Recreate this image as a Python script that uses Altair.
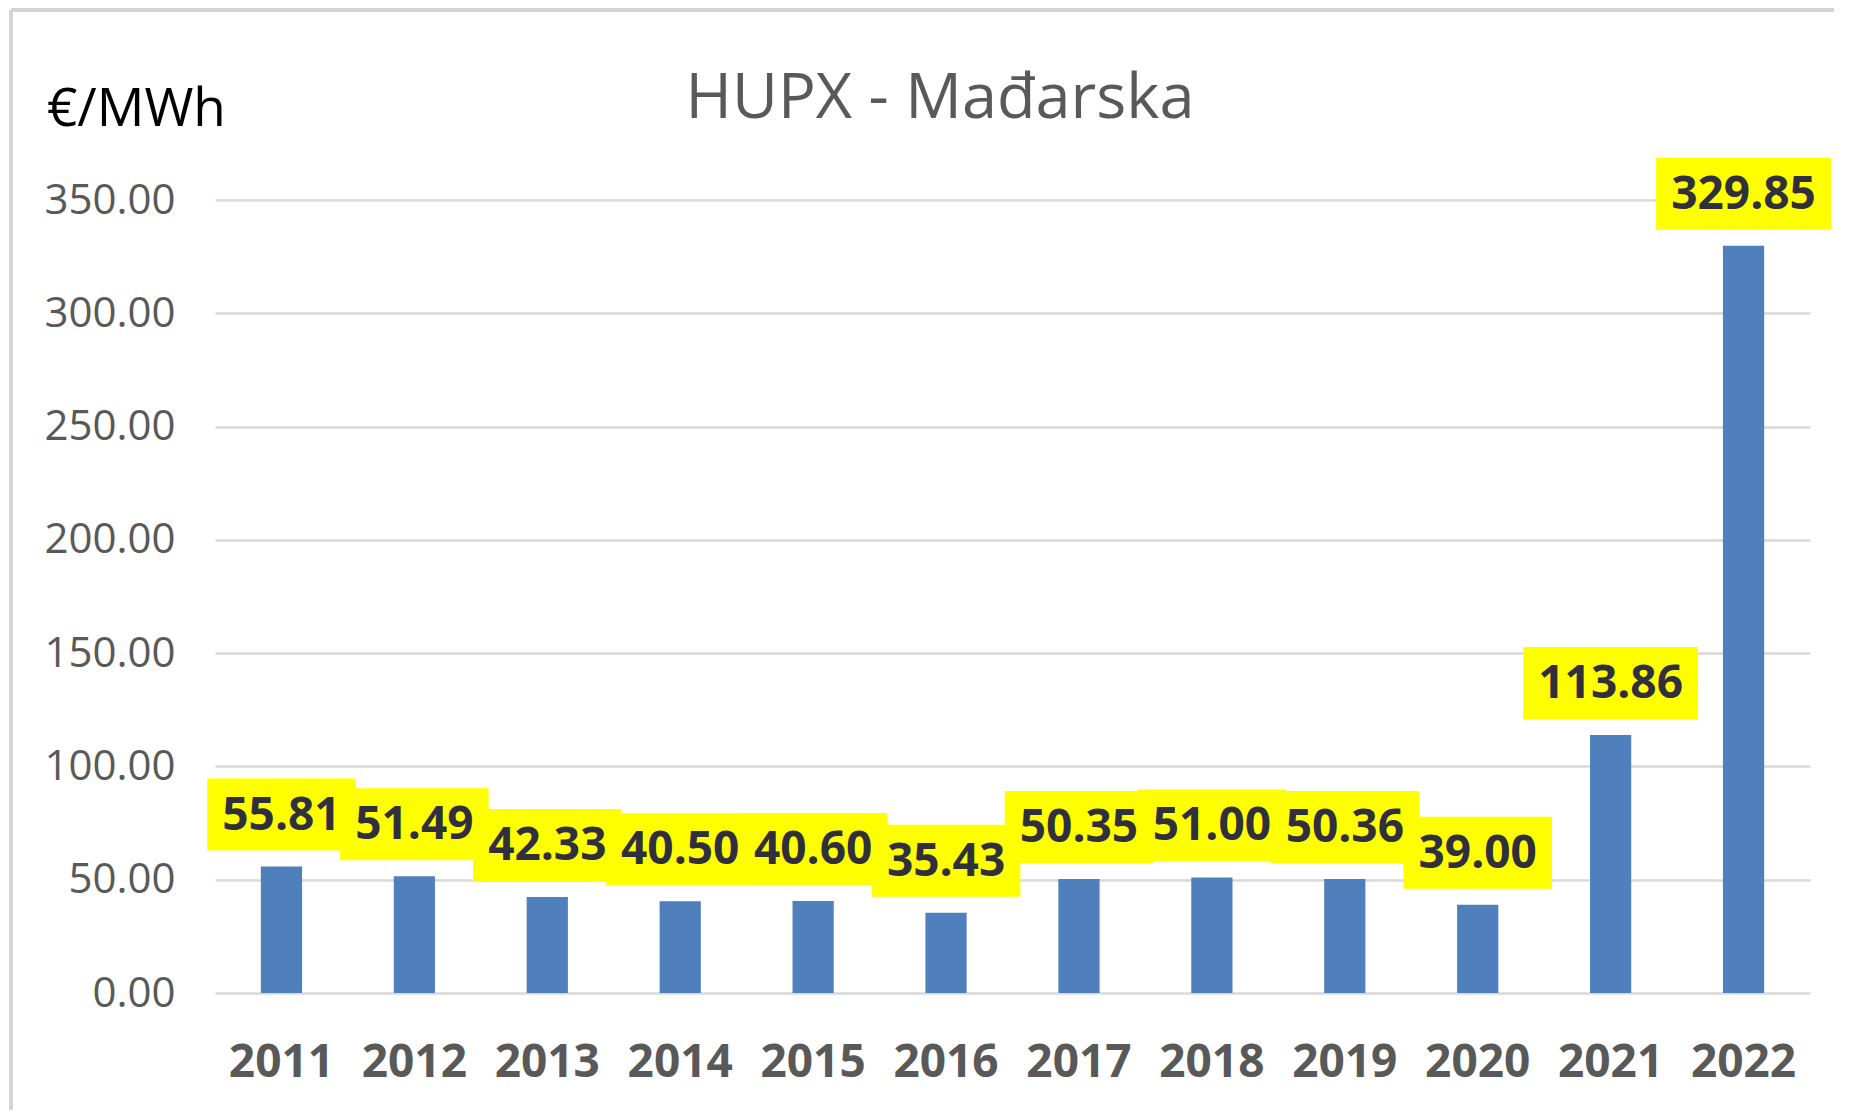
import altair as alt
import pandas as pd

years = ["2011", "2012", "2013", "2014", "2015", "2016", "2017", "2018", "2019", "2020", "2021", "2022"]
prices = [55.81, 51.49, 42.33, 40.50, 40.60, 35.43, 50.35, 51.00, 50.36, 39.00, 113.86, 329.85]
y_ticks = [0, 50, 100, 150, 200, 250, 300, 350]
title_text = "HUPX - Mađarska"
unit_text = "€/MWh"

df = pd.DataFrame({"year": years, "price": prices})
df["label"] = [f"{p:.2f}" for p in prices]

FONT = "Open Sans"

x_enc = alt.X(
    "year:N",
    sort=years,
    scale=alt.Scale(paddingInner=0.69, paddingOuter=0.345),
    axis=alt.Axis(
        title=None, labelAngle=0, labelFont=FONT, labelFontWeight="bold",
        labelFontSize=46, labelColor="#595959", labelPadding=47,
        domain=False, ticks=False, grid=False,
    ),
)
y_scale = alt.Scale(domain=[0, 350], nice=False, zero=True)

base = alt.Chart(df)

bars = base.mark_bar(color="#4F7FBC").encode(
    x=x_enc,
    y=alt.Y(
        "price:Q", scale=y_scale,
        axis=alt.Axis(
            title=None, values=y_ticks, format=".2f", labelFont=FONT,
            labelFontSize=42, labelColor="#595959", labelPadding=40,
            domain=False, ticks=False, gridColor="#D9D9D9", gridWidth=2.5,
        ),
    ),
)

boxes = base.transform_calculate(
    boxw="length(datum.label) * 26.3 + 17"
).mark_bar(color="#FFFF00", yOffset=-88, y2Offset=-16).encode(
    x=alt.X("year:N", sort=years),
    y=alt.Y("price:Q", scale=y_scale),
    y2="price:Q",
    size=alt.Size("boxw:Q", scale=None, legend=None),
)

labels = base.mark_text(
    font=FONT, fontWeight="bold", fontSize=46, color="#30303C",
    baseline="middle", dy=-51,
).encode(
    x=alt.X("year:N", sort=years),
    y=alt.Y("price:Q", scale=y_scale),
    text="label:N",
)

unit = alt.Chart(pd.DataFrame({"t": [unit_text]})).mark_text(
    font=FONT, fontSize=53, color="#000000", align="left", baseline="middle",
).encode(x=alt.value(-168), y=alt.value(-90), text="t:N")

title = alt.Chart(pd.DataFrame({"t": [title_text]})).mark_text(
    font=FONT, fontSize=63, color="#595959", align="center", baseline="alphabetic",
).encode(x=alt.value(725), y=alt.value(-82), text="t:N")

frame_left = alt.Chart(pd.DataFrame({"a": [0]})).mark_rule(
    color="#D4D4D4", strokeWidth=4
).encode(x=alt.value(-204), y=alt.value(-190), y2=alt.value(940))

frame_top = alt.Chart(pd.DataFrame({"a": [0]})).mark_rule(
    color="#D4D4D4", strokeWidth=4
).encode(x=alt.value(-204), x2=alt.value(1640), y=alt.value(-190))

chart = alt.layer(frame_left, frame_top, bars, boxes, labels, unit, title).properties(
    width=1595,
    height=793,
    autosize=alt.AutoSizeParams(type="none"),
    padding={"left": 207, "top": 192, "right": 24, "bottom": 117},
).configure(background="#FFFFFF").configure_view(stroke=None, strokeWidth=0)

chart.save("out.html", embed_options={"renderer": "svg", "actions": False})
